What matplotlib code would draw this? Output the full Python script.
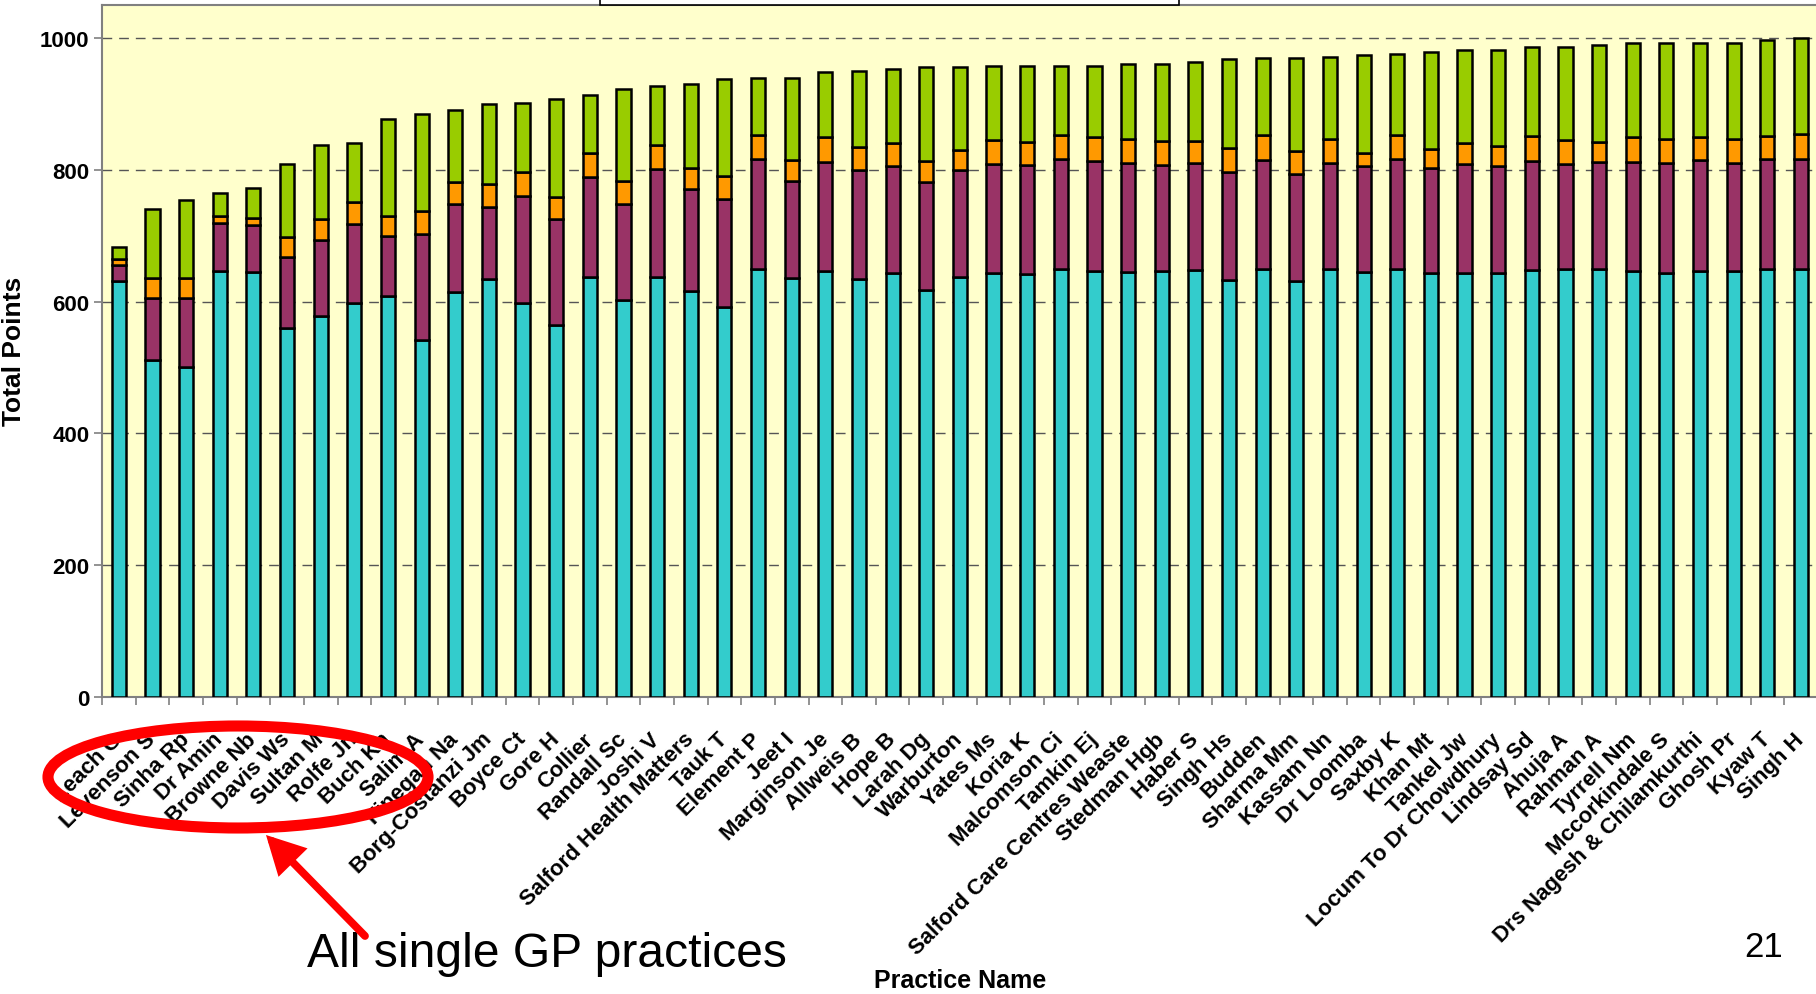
import matplotlib
matplotlib.use("Agg")
import matplotlib.pyplot as plt
from matplotlib.patches import Ellipse, Rectangle, FancyArrowPatch
import numpy as np

plt.rcParams['font.family'] = ['Liberation Sans', 'DejaVu Sans']

practices = ["Leach G", "Levenson S", "Sinha Rp", "Dr Amin", "Browne Nb", "Davis Ws",
             "Sultan M", "Rolfe Jn", "Buch Kh", "Salim A", "Finegan Na", "Borg-Costanzi Jm",
             "Boyce Ct", "Gore H", "Collier", "Randall Sc", "Joshi V", "Salford Health Matters",
             "Tauk T", "Element P", "Jeet I", "Marginson Je", "Allweis B", "Hope B",
             "Larah Dg", "Warburton", "Yates Ms", "Koria K", "Malcomson Ci", "Tamkin Ej",
             "Salford Care Centres Weaste", "Stedman Hgb", "Haber S", "Singh Hs", "Budden",
             "Sharma Mm", "Kassam Nn", "Dr Loomba", "Saxby K", "Khan Mt", "Tankel Jw",
             "Locum To Dr Chowdhury", "Lindsay Sd", "Ahuja A", "Rahman A", "Tyrrell Nm",
             "Mccorkindale S", "Drs Nagesh & Chilamkurthi", "Ghosh Pr", "Kyaw T", "Singh H"]

clinical = [631, 512, 500, 647, 645, 560, 578, 598, 608, 542, 615, 635, 598, 565, 638, 603,
            638, 616, 592, 649, 636, 647, 635, 643, 618, 638, 644, 642, 649, 647, 645, 647,
            648, 633, 649, 631, 649, 645, 649, 644, 644, 643, 648, 649, 649, 647, 644, 647,
            647, 649, 649]
organisational = [25, 94, 106, 72, 71, 107, 115, 120, 91, 160, 133, 108, 162, 161, 151, 145,
                  163, 155, 163, 168, 147, 165, 164, 163, 163, 161, 164, 165, 168, 166, 166, 160,
                  162, 163, 166, 162, 162, 161, 168, 159, 164, 163, 165, 159, 163, 165, 166, 168,
                  163, 167, 168]
patient_exp = [9, 30, 30, 11, 11, 31, 32, 33, 31, 36, 34, 36, 36, 32, 36, 35,
               37, 31, 36, 36, 32, 37, 35, 34, 33, 31, 37, 35, 36, 36, 36, 36,
               34, 37, 37, 36, 36, 20, 36, 28, 32, 30, 38, 37, 30, 37, 36, 35,
               36, 35, 37]
additional = [18, 105, 118, 35, 45, 110, 113, 89, 147, 147, 109, 121, 106, 149, 89, 140,
              89, 128, 146, 86, 124, 99, 116, 113, 142, 126, 112, 115, 105, 109, 113, 118,
              120, 135, 117, 140, 124, 148, 123, 147, 141, 145, 136, 142, 147, 143, 147, 143,
              147, 146, 146]

series = [clinical, organisational, patient_exp, additional]
colors = ["#33CCCC", "#993366", "#FF9900", "#99CC00"]

W, H = 1816, 995
fig = plt.figure(figsize=(W / 100, H / 100), dpi=100)
left, bottom_px, top_px = 102, 698, 6
ax = fig.add_axes([left / W, 1 - bottom_px / H, (W - left) / W + 0.001, (bottom_px - top_px) / H])
ax.set_facecolor("#FFFFCC")

x = np.arange(len(practices))
base = np.zeros(len(practices))
for vals, c in zip(series, colors):
    ax.bar(x, vals, width=0.42, bottom=base, color=c, edgecolor="black", linewidth=1.8, zorder=3)
    base += np.array(vals)

ax.set_xlim(-0.5, len(practices) - 0.5)
ax.set_ylim(0, 1050)
ax.set_yticks([0, 200, 400, 600, 800, 1000])
ax.yaxis.grid(True, linestyle=(0, (7, 5)), color="#555555", linewidth=1.0, zorder=1)
ax.set_axisbelow(True)

ax.set_xticks(np.arange(len(practices) + 1) - 0.5)
ax.set_xticklabels([])
ax.set_xticks(x, minor=True)
ax.set_xticklabels(practices, minor=True, rotation=45, ha="right", va="center",
                   rotation_mode="anchor", fontsize=16, fontweight="bold")
ax.tick_params(axis="x", which="minor", length=0, pad=28)
ax.tick_params(axis="x", which="major", length=6, width=1.2, color="#808080", direction="out")
ax.tick_params(axis="y", length=6, width=1.2, color="#808080", direction="out", pad=3)
for lab in ax.get_yticklabels():
    lab.set_fontsize(16)
    lab.set_fontweight("bold")

for s in ["left", "bottom", "top"]:
    ax.spines[s].set_color("#808080")
    ax.spines[s].set_linewidth(1.5)
ax.spines["right"].set_visible(False)

fig.text(14 / W, 1 - 351 / H, "Total Points", rotation=90, ha="center", va="center",
         fontsize=19, fontweight="bold")
fig.text(960 / W, 1 - 981 / H, "Practice Name", ha="center", va="center",
         fontsize=18, fontweight="bold")

# cropped white box at top
fig.add_artist(Rectangle((600 / W, 1 - 6 / H), 579 / W, 0.02, transform=fig.transFigure,
                         facecolor="white", edgecolor="black", linewidth=1.2, zorder=5))

# red annotation
fig.add_artist(Ellipse((238 / W, 1 - 778 / H), 380 / W, 102 / H, transform=fig.transFigure,
                       facecolor="none", edgecolor="#FF0000", linewidth=8, zorder=6))
fig.add_artist(FancyArrowPatch((365 / W, 1 - 937 / H), (266 / W, 1 - 836 / H),
                               transform=fig.transFigure,
                               arrowstyle="-|>,head_length=1.9,head_width=1.0",
                               mutation_scale=10, color="#FF0000", linewidth=5.6,
                               shrinkA=0, shrinkB=0, joinstyle="miter", zorder=6))
fig.text(307 / W, 1 - 967 / H, "All single GP practices", ha="left", va="baseline",
         fontsize=34.6, color="black")
fig.text(1783 / W, 1 - 957 / H, "21", ha="right", va="baseline", fontsize=25, color="black")

fig.savefig("out.png", dpi=100, facecolor="white")
